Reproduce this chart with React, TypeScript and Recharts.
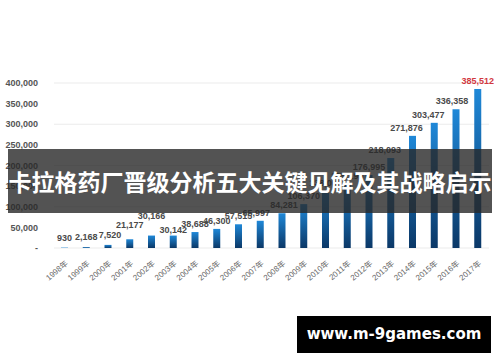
import { BarChart, Bar, XAxis, YAxis, CartesianGrid, LabelList } from 'recharts'

// yearly totals (2010 sits under the banner, estimated)
const years = ['1998年', '1999年', '2000年', '2001年', '2002年', '2003年', '2004年', '2005年', '2006年', '2007年',
  '2008年', '2009年', '2010年', '2011年', '2012年', '2013年', '2014年', '2015年', '2016年', '2017年']
const totals = [930, 2168, 7520, 21177, 30166, 30142, 38688, 46300, 57515, 65997,
  84281, 106370, 138000, 155199, 176995, 218093, 271876, 303477, 336358, 385512]
const yTicks = [0, 50000, 100000, 150000, 200000, 250000, 300000, 350000, 400000]

const TITLE = '卡拉格药厂晋级分析五大关键见解及其战略启示'
const SITE = 'www.m-9games.com'

// small label nudges so they don't collide, like the source chart
const NUDGE: Record<number, [number, number]> = {
  0: [0, -2], 1: [0, -2], 2: [2, -2], 3: [0, -6], 4: [0, -12], 5: [0, 2],
  9: [-4, 0], 10: [2, 0], 15: [-6, 0], 16: [-6, 0], 17: [-6, 0], 18: [-4, 0],
}

const fmt = (v: number) => (v === 0 ? '-' : v.toLocaleString('en-US'))

const data = years.map((year, i) => ({ year, total: totals[i] }))

const ValueLabel = (props: any) => {
  const { x, y, width, value, index } = props
  const [dx, dy] = NUDGE[index] || [0, 0]
  const last = index === totals.length - 1
  return (
    <text
      x={x + width / 2 + dx}
      y={y - 5 + dy}
      textAnchor="middle"
      fontSize={9}
      fontWeight="bold"
      fontFamily="'Liberation Sans', Arial, sans-serif"
      fill={last ? '#d2383f' : '#4a4a4a'}
    >
      {fmt(value)}
    </text>
  )
}

export default function App() {
  return (
    <div style={{ position: 'absolute', left: 0, top: 0, width: 500, height: 362, background: '#fff', overflow: 'hidden' }}>
      <BarChart width={500} height={300} data={data} margin={{ top: 83, right: 11, left: 0, bottom: 0 }} barSize={7}>
        <defs>
          <linearGradient id="barGrad" x1="0" y1="0" x2="0" y2="1">
            <stop offset="0%" stopColor="#1f88d8" />
            <stop offset="100%" stopColor="#0b3867" />
          </linearGradient>
        </defs>
        <CartesianGrid vertical={false} stroke="#ebebeb" />
        <XAxis
          dataKey="year"
          height={52}
          interval={0}
          axisLine={false}
          tickLine={false}
          tickMargin={6}
          angle={-40}
          textAnchor="end"
          tick={{ fontSize: 8, fill: '#666', fontFamily: "'Liberation Sans', 'Noto Sans CJK SC', sans-serif" }}
        />
        <YAxis
          width={54}
          domain={[0, 400000]}
          ticks={yTicks}
          axisLine={false}
          tickLine={false}
          tickMargin={10}
          tickFormatter={fmt}
          tick={{ fontSize: 9, fill: '#555', fontWeight: 'bold', fontFamily: "'Liberation Sans', Arial, sans-serif" }}
        />
        <Bar dataKey="total" fill="url(#barGrad)" isAnimationActive={false}>
          <LabelList dataKey="total" content={ValueLabel} />
        </Bar>
      </BarChart>
      <div
        style={{
          position: 'absolute', left: 8, top: 149, width: 484, height: 64,
          background: 'rgba(40,40,40,0.8)', color: '#fff',
          fontFamily: "'Noto Sans CJK SC', sans-serif", fontWeight: 'bold', fontSize: 23,
          lineHeight: '64px', textAlign: 'center', whiteSpace: 'nowrap',
        }}
      >
        {TITLE}
      </div>
      <div
        style={{
          position: 'absolute', left: 297, top: 316, width: 194, height: 37,
          background: '#000', color: '#fff',
          fontFamily: "'DejaVu Sans', sans-serif", fontWeight: 'bold', fontSize: 15,
          lineHeight: '37px', textAlign: 'center', whiteSpace: 'nowrap',
        }}
      >
        {SITE}
      </div>
    </div>
  )
}
